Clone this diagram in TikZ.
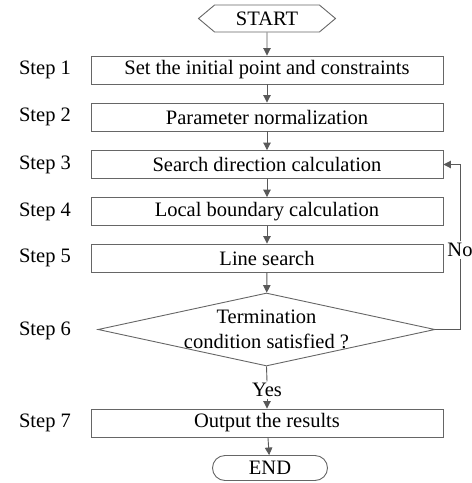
\documentclass[tikz,border=0pt]{standalone}
\usepackage{fontspec}
\setmainfont{Liberation Serif}
\usetikzlibrary{arrows.meta,shapes.geometric,shapes.misc,shapes.symbols}

\begin{document}
\begin{tikzpicture}[x=1pt,y=1pt,
    font=\fontsize{20.5}{25}\selectfont,
    stepbox/.style={draw=black!60,line width=0.9pt,minimum width=352pt,minimum height=28pt,inner sep=0pt},
    startbox/.style={draw=black!60,line width=0.9pt,signal,signal to=west and east,signal pointer angle=80,minimum width=137pt,minimum height=27pt,inner sep=0pt},
    endbox/.style={draw=black!60,line width=0.9pt,rounded rectangle,minimum width=115pt,minimum height=25pt,inner sep=0pt},
    decision/.style={draw=black!60,line width=0.9pt,diamond,minimum width=337pt,minimum height=73pt,inner sep=0pt},
    steplabel/.style={inner sep=0pt},
    answer/.style={fill=white,inner sep=1.5pt},
    line/.style={draw=black!65,line width=0.9pt},
    flow/.style={line,-{Triangle[width=7.5pt,length=7.5pt]}}]
		\useasboundingbox (0,0) rectangle (472,-483);
		\node[startbox] (start) at (267,-18.5) {START};
		\node[stepbox] (s1) at (267,-70) {Set the initial point and constraints};
		\node[stepbox] (s2) at (267,-117) {Parameter normalization};
		\node[stepbox] (s3) at (267,-164.5) {Search direction calculation};
		\node[stepbox] (s4) at (267,-211.5) {Local boundary calculation};
		\node[stepbox] (s5) at (267,-258) {Line search};
		\node[decision] (dec) at (266.5,-329.5) {};
		\node[align=center] (dectext) at (dec.center) {Termination\\condition satisfied ?};
		\node[stepbox] (s7) at (267,-423) {Output the results};
		\node[endbox] (end) at (270,-468) {END};
		\node[steplabel] (l1) at (45,-70) {Step 1};
		\node[steplabel] (l2) at (45,-117) {Step 2};
		\node[steplabel] (l3) at (45,-164.5) {Step 3};
		\node[steplabel] (l4) at (45,-211.5) {Step 4};
		\node[steplabel] (l5) at (45,-258) {Step 5};
		\node[steplabel] (l6) at (45,-331) {Step 6};
		\node[steplabel] (l7) at (45,-423) {Step 7};
		\node[answer] (yes) at (267,-390) {Yes};
		\node[answer] (no) at (460,-250) {No};
		\draw[flow] (start) -- (s1);
		\draw[flow] (s1) -- (s2);
		\draw[flow] (s2) -- (s3);
		\draw[flow] (s3) -- (s4);
		\draw[flow] (s4) -- (s5);
		\draw[flow] (s5) -- (dec);
		\draw[line] (dec.south) -- (yes.north);
		\draw[flow] (yes.south) -- (s7);
		\draw[flow] (s7) -- (end);
		\draw[line] (dec.east) -| (no.south);
		\draw[flow] (no.north) |- (s3.east);
	\end{tikzpicture}
\end{document}
